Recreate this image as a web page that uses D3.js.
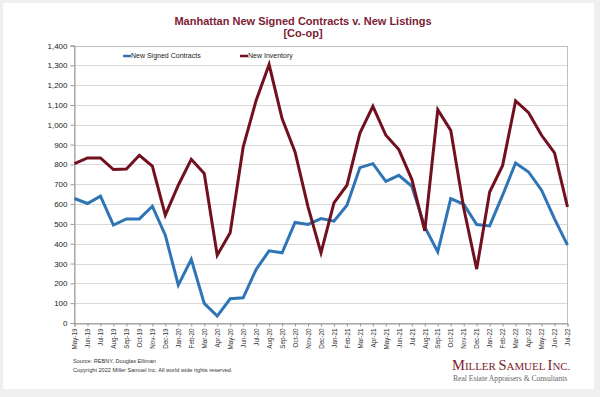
<!DOCTYPE html>
<html lang="en">
<head>
<meta charset="UTF-8">
<title>Manhattan New Signed Contracts v. New Listings</title>
<script src="https://d3js.org/d3.v7.min.js"></script>
<style>
  body { margin: 0; background: #efefef; }
  svg { display: block; }
</style>
</head>
<body>
<div id="chart"></div>
<script>
// months May-19 .. Jul-22
const months = ["May-19","Jun-19","Jul-19","Aug-19","Sep-19","Oct-19","Nov-19","Dec-19",
  "Jan-20","Feb-20","Mar-20","Apr-20","May-20","Jun-20","Jul-20","Aug-20","Sep-20","Oct-20","Nov-20","Dec-20",
  "Jan-21","Feb-21","Mar-21","Apr-21","May-21","Jun-21","Jul-21","Aug-21","Sep-21","Oct-21","Nov-21","Dec-21",
  "Jan-22","Feb-22","Mar-22","Apr-22","May-22","Jun-22","Jul-22"];

const signedContracts = [628, 603, 640, 494, 525, 525, 589, 443,
  191, 321, 99, 35, 122, 127, 270, 364, 354, 507, 497, 527,
  514, 594, 784, 804, 715, 745, 690, 485, 359, 628, 599, 497,
  490, 645, 807, 762, 670, 525, 393];

const newInventory = [804, 833, 833, 774, 777, 846, 791, 544,
  695, 826, 754, 342, 455, 888, 1123, 1304, 1031, 863, 586, 354,
  606, 695, 958, 1093, 947, 875, 725, 465, 1076, 972, 580, 272,
  661, 795, 1120, 1061, 947, 858, 586];

const yTicks = d3.range(0, 1401, 100);

const width = 600, height = 397;
const margin = { top: 45.5, right: 32.5, bottom: 74, left: 74.5 };

const svg = d3.select("#chart").append("svg")
  .attr("width", width)
  .attr("height", height);

// white card on grey frame
svg.append("rect")
  .attr("x", 3).attr("y", 3)
  .attr("width", 591).attr("height", 386)
  .attr("fill", "#fff");

const x = d3.scalePoint()
  .domain(months)
  .range([margin.left, width - margin.right]);

const y = d3.scaleLinear()
  .domain([0, 1400])
  .range([height - margin.bottom, margin.top]);

// gridlines
svg.append("g")
  .selectAll("line")
  .data(yTicks)
  .enter().append("line")
  .attr("x1", margin.left)
  .attr("x2", width - margin.right)
  .attr("y1", d => Math.round(y(d)) + 0.5)
  .attr("y2", d => Math.round(y(d)) + 0.5)
  .attr("stroke", "#d9d9d9")
  .attr("stroke-width", 1);

// plot border
svg.append("rect")
  .attr("x", margin.left)
  .attr("y", Math.round(y(1400)) + 0.5)
  .attr("width", width - margin.right - margin.left)
  .attr("height", Math.round(y(0)) - Math.round(y(1400)))
  .attr("fill", "none")
  .attr("stroke", "#bfbfbf");

// y axis
const yAxis = svg.append("g")
  .attr("transform", `translate(${margin.left},0)`)
  .call(d3.axisLeft(y).tickValues(yTicks).tickSize(4).tickFormat(d3.format(",")));
yAxis.select(".domain").attr("stroke", "#999");
yAxis.selectAll(".tick line").attr("stroke", "#999");
yAxis.selectAll("text")
  .attr("font-family", "Liberation Sans, Arial, sans-serif")
  .attr("font-size", "8px")
  .attr("fill", "#222")
  .attr("x", -7);

// x axis
const xAxis = svg.append("g")
  .attr("transform", `translate(0,${Math.round(y(0)) + 0.5})`)
  .call(d3.axisBottom(x).tickSize(3));
xAxis.select(".domain").attr("stroke", "#999");
xAxis.selectAll(".tick line").attr("stroke", "#999");
xAxis.selectAll("text")
  .attr("font-family", "Liberation Sans, Arial, sans-serif")
  .attr("font-size", "6.3px")
  .attr("fill", "#333")
  .attr("transform", "rotate(-90)")
  .attr("text-anchor", "end")
  .attr("x", -5)
  .attr("y", 0)
  .attr("dy", "0.35em");

// lines
const line = d3.line()
  .x((d, i) => x(months[i]))
  .y(d => y(d));

svg.append("path")
  .datum(signedContracts)
  .attr("fill", "none")
  .attr("stroke", "#2e75b6")
  .attr("stroke-width", 3)
  .attr("d", line);

svg.append("path")
  .datum(newInventory)
  .attr("fill", "none")
  .attr("stroke", "#73101f")
  .attr("stroke-width", 3)
  .attr("d", line);

// title
const title = svg.append("text")
  .attr("text-anchor", "middle")
  .attr("font-family", "Liberation Sans, Arial, sans-serif")
  .attr("font-weight", "bold")
  .attr("font-size", "11px")
  .attr("fill", "#7d2133");
title.append("tspan").attr("x", 303).attr("y", 25).text("Manhattan New Signed Contracts v. New Listings");
title.append("tspan").attr("x", 303).attr("y", 37).text("[Co-op]");

// legend
const legend = [
  { label: "New Signed Contracts", color: "#2e75b6", x: 123 },
  { label: "New Inventory", color: "#73101f", x: 240 }
];
const lg = svg.append("g").selectAll("g")
  .data(legend)
  .enter().append("g")
  .attr("transform", d => `translate(${d.x},56)`);
lg.append("line")
  .attr("x1", 0).attr("x2", 8)
  .attr("stroke", d => d.color)
  .attr("stroke-width", 2.5);
lg.append("text")
  .attr("x", 8)
  .attr("dy", "0.35em")
  .attr("font-family", "Liberation Sans, Arial, sans-serif")
  .attr("font-size", "7px")
  .attr("fill", "#222")
  .text(d => d.label);

// footer
const foot = svg.append("text")
  .attr("font-family", "Liberation Sans, Arial, sans-serif")
  .attr("font-size", "5.6px")
  .attr("fill", "#333");
foot.append("tspan").attr("x", 73).attr("y", 363).text("Source: REBNY, Douglas Elliman");
foot.append("tspan").attr("x", 73).attr("y", 372).text("Copyright 2022 Miller Samuel Inc.  All world wide rights reserved.");

// logo
const logo = svg.append("text")
  .attr("x", 452).attr("y", 370)
  .attr("font-family", "Liberation Serif, Times New Roman, serif")
  .attr("fill", "#7a1a2a");
const words = [["M", "ILLER "], ["S", "AMUEL "], ["I", "NC."]];
words.forEach(w => {
  logo.append("tspan").attr("font-size", "14.5px").text(w[0]);
  logo.append("tspan").attr("font-size", "10.9px").text(w[1]);
});
svg.append("text")
  .attr("x", 453).attr("y", 381)
  .attr("font-family", "Liberation Serif, Times New Roman, serif")
  .attr("font-size", "7.6px")
  .attr("fill", "#666")
  .text("Real Estate Appraisers & Consultants");
</script>
</body>
</html>
